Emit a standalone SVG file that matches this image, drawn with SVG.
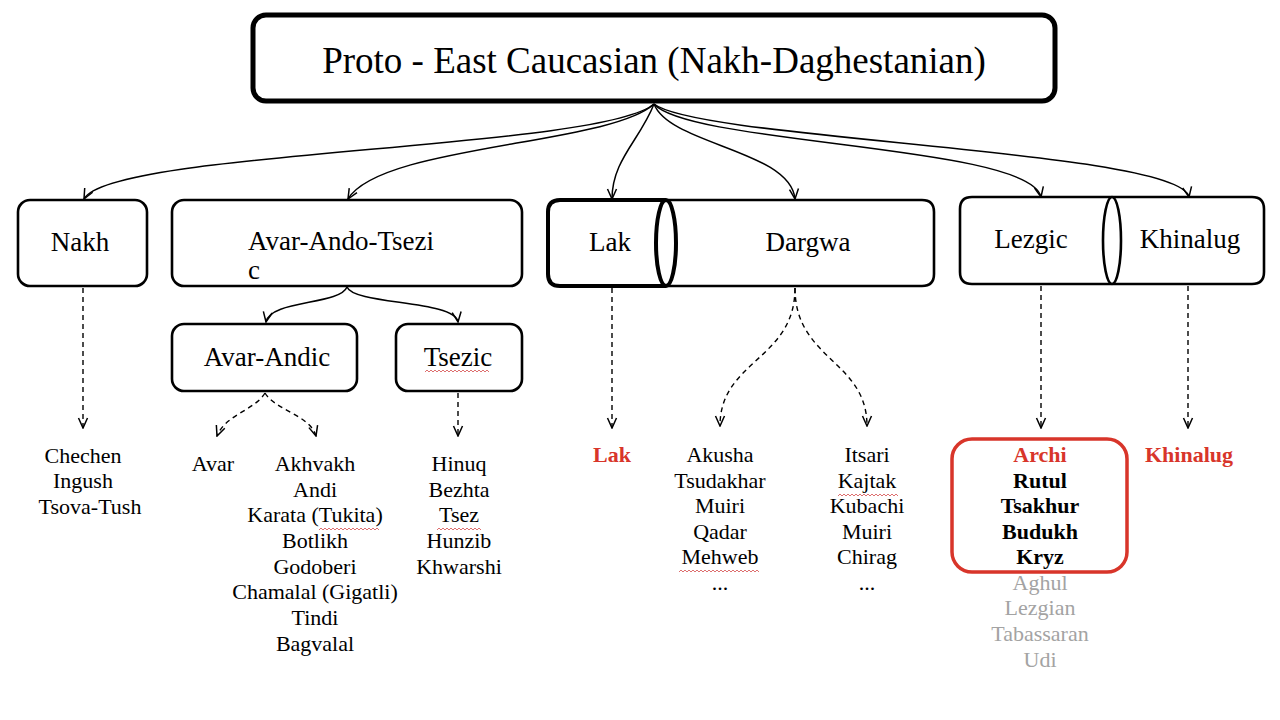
<svg xmlns="http://www.w3.org/2000/svg" width="1280" height="720" viewBox="0 0 1280 720">
<style>
.box{fill:#fff;stroke:#000;stroke-width:2.6}
.thick{fill:#fff;stroke:#000;stroke-width:4}
.lbl{font-family:"Liberation Serif","Times New Roman",serif;font-size:27px;fill:#000;text-anchor:middle}
.lst{font-family:"Liberation Serif","Times New Roman",serif;font-size:22px;fill:#000;text-anchor:middle}
.b{font-weight:bold}
.red{fill:#d8352a}
.gray{fill:#a3a3a3}
.solid{fill:none;stroke:#000;stroke-width:1.5;marker-end:url(#arr)}
.dash{fill:none;stroke:#000;stroke-width:1.4;stroke-dasharray:5 4;marker-end:url(#arr)}
.wave{fill:none;stroke:#d96060;stroke-width:0.9}
</style>
<defs>
<marker id="arr" viewBox="0 0 12 12" refX="11" refY="6" markerWidth="12" markerHeight="12" markerUnits="userSpaceOnUse" orient="auto">
<path d="M1,1.5 L11,6 L1,10.5" fill="none" stroke="#000" stroke-width="1.5"/>
</marker>
</defs>
<rect width="1280" height="720" fill="#fff"/>

<g id="connectors">
<path class="solid" d="M654,104 C600,150 110,150 84,199"/>
<path class="solid" d="M654,104 C610,145 380,145 348,199"/>
<path class="solid" d="M654,104 C640,140 612,160 612,199"/>
<path class="solid" d="M654,104 C670,145 790,150 795,199"/>
<path class="solid" d="M654,104 C690,145 1030,145 1041,197"/>
<path class="solid" d="M654,104 C700,140 1180,150 1189,197"/>
<path class="solid" d="M347,287 C340,305 270,300 266,322"/>
<path class="solid" d="M347,287 C354,305 455,300 458,322"/>
<path class="dash" d="M83,288 L83,428"/>
<path class="dash" d="M265,393 C255,410 225,415 217,436"/>
<path class="dash" d="M265,393 C275,410 310,415 316,436"/>
<path class="dash" d="M458,393 L458,436"/>
<path class="dash" d="M612,288 L612,428"/>
<path class="dash" d="M795,288 C795,360 720,360 720,426"/>
<path class="dash" d="M795,288 C795,360 867,360 867,426"/>
<path class="dash" d="M1041,286 L1041,428"/>
<path class="dash" d="M1188,286 L1188,428"/>
</g>

<g id="root">
<rect x="253" y="15" width="802" height="86" rx="13" fill="#fff" stroke="#000" stroke-width="5"/>
<text x="654" y="73" class="lbl" style="font-size:37px">Proto - East Caucasian (Nakh-Daghestanian)</text>
</g>

<g id="nakh">
<rect class="box" x="18" y="200" width="129" height="86" rx="12"/>
<text x="80" y="251" class="lbl">Nakh</text>
</g>

<g id="avar-ando-tsezic">
<rect class="box" x="172" y="200" width="350" height="86" rx="12"/>
<text x="248" y="250" class="lbl" style="text-anchor:start">Avar-Ando-Tsezi</text>
<text x="248" y="279" class="lbl" style="text-anchor:start">c</text>
</g>

<g id="avar-andic">
<rect class="box" x="172" y="324" width="185" height="67" rx="12"/>
<text x="267" y="366" class="lbl">Avar-Andic</text>
</g>

<g id="tsezic">
<rect class="box" x="396" y="324" width="126" height="67" rx="12"/>
<text x="458" y="366" class="lbl">Tsezic</text>
<path class="wave" d="M425,372 l2,-2 l2,2 l2,-2 l2,2 l2,-2 l2,2 l2,-2 l2,2 l2,-2 l2,2 l2,-2 l2,2 l2,-2 l2,2 l2,-2 l2,2 l2,-2 l2,2 l2,-2 l2,2 l2,-2 l2,2 l2,-2 l2,2 l2,-2 l2,2 l2,-2 l2,2 l2,-2 l2,2 l2,-2 l2,2"/>
</g>

<g id="dargwa">
<path class="box" d="M666,200 L922,200 Q934,200 934,212 L934,274 Q934,286 922,286 L666,286"/>
<text x="808" y="251" class="lbl">Dargwa</text>
</g>

<g id="lak">
<path class="thick" d="M666,200 L560,200 Q548,200 548,212 L548,274 Q548,286 560,286 L666,286"/>
<ellipse class="thick" cx="666" cy="243" rx="10" ry="43"/>
<text x="610" y="251" class="lbl">Lak</text>
</g>

<g id="lezgic">
<path class="box" d="M1112,197 L972,197 Q960,197 960,209 L960,272 Q960,284 972,284 L1112,284"/>
<text x="1031" y="248" class="lbl">Lezgic</text>
</g>

<g id="khinalug">
<path class="box" d="M1112,197 L1252,197 Q1264,197 1264,209 L1264,272 Q1264,284 1252,284 L1112,284"/>
<ellipse class="box" cx="1112" cy="240.5" rx="9" ry="43.5"/>
<text x="1190" y="248" class="lbl">Khinalug</text>
</g>

<g id="nakh-langs">
<text class="lst" x="83" y="463">Chechen</text>
<text class="lst" x="83" y="488">Ingush</text>
<text class="lst" x="90" y="514">Tsova-Tush</text>
</g>

<g id="avar-lang">
<text class="lst" x="213" y="471">Avar</text>
</g>

<g id="andic-langs">
<text class="lst" x="315" y="471">Akhvakh</text>
<text class="lst" x="315" y="497">Andi</text>
<text class="lst" x="315" y="522">Karata (Tukita)</text>
<text class="lst" x="315" y="548">Botlikh</text>
<text class="lst" x="315" y="574">Godoberi</text>
<text class="lst" x="315" y="599">Chamalal (Gigatli)</text>
<text class="lst" x="315" y="625">Tindi</text>
<text class="lst" x="315" y="651">Bagvalal</text>
<path class="wave" d="M319,530 l2,-2 l2,2 l2,-2 l2,2 l2,-2 l2,2 l2,-2 l2,2 l2,-2 l2,2 l2,-2 l2,2 l2,-2 l2,2 l2,-2 l2,2 l2,-2 l2,2 l2,-2 l2,2 l2,-2 l2,2 l2,-2 l2,2 l2,-2 l2,2 l2,-2 l2,2 l2,-2 l2,2"/>
</g>

<g id="tsezic-langs">
<text class="lst" x="459" y="471">Hinuq</text>
<text class="lst" x="459" y="497">Bezhta</text>
<text class="lst" x="459" y="522">Tsez</text>
<text class="lst" x="459" y="548">Hunzib</text>
<text class="lst" x="459" y="574">Khwarshi</text>
<path class="wave" d="M437,530 l2,-2 l2,2 l2,-2 l2,2 l2,-2 l2,2 l2,-2 l2,2 l2,-2 l2,2 l2,-2 l2,2 l2,-2 l2,2 l2,-2 l2,2 l2,-2 l2,2 l2,-2 l2,2 l2,-2 l2,2"/>
</g>

<g id="lak-lang">
<text class="lst b red" x="612" y="462">Lak</text>
</g>

<g id="dargwa-langs-1">
<text class="lst" x="720" y="462">Akusha</text>
<text class="lst" x="720" y="488">Tsudakhar</text>
<text class="lst" x="720" y="513">Muiri</text>
<text class="lst" x="720" y="539">Qadar</text>
<text class="lst" x="720" y="564">Mehweb</text>
<text class="lst" x="720" y="590">...</text>
<path class="wave" d="M679,572 l2,-2 l2,2 l2,-2 l2,2 l2,-2 l2,2 l2,-2 l2,2 l2,-2 l2,2 l2,-2 l2,2 l2,-2 l2,2 l2,-2 l2,2 l2,-2 l2,2 l2,-2 l2,2 l2,-2 l2,2 l2,-2 l2,2 l2,-2 l2,2 l2,-2 l2,2 l2,-2 l2,2 l2,-2 l2,2 l2,-2 l2,2 l2,-2 l2,2 l2,-2 l2,2 l2,-2 l2,2"/>
</g>

<g id="dargwa-langs-2">
<text class="lst" x="867" y="462">Itsari</text>
<text class="lst" x="867" y="488">Kajtak</text>
<text class="lst" x="867" y="513">Kubachi</text>
<text class="lst" x="867" y="539">Muiri</text>
<text class="lst" x="867" y="564">Chirag</text>
<text class="lst" x="867" y="590">...</text>
<path class="wave" d="M838,496 l2,-2 l2,2 l2,-2 l2,2 l2,-2 l2,2 l2,-2 l2,2 l2,-2 l2,2 l2,-2 l2,2 l2,-2 l2,2 l2,-2 l2,2 l2,-2 l2,2 l2,-2 l2,2 l2,-2 l2,2 l2,-2 l2,2 l2,-2 l2,2 l2,-2 l2,2 l2,-2 l2,2"/>
</g>

<g id="lezgic-langs">
<rect x="952" y="439" width="175" height="133" rx="20" fill="none" stroke="#d8352a" stroke-width="3.5"/>
<text class="lst b red" x="1040" y="462">Archi</text>
<text class="lst b" x="1040" y="488">Rutul</text>
<text class="lst b" x="1040" y="513">Tsakhur</text>
<text class="lst b" x="1040" y="539">Budukh</text>
<text class="lst b" x="1040" y="564">Kryz</text>
<text class="lst gray" x="1040" y="590">Aghul</text>
<text class="lst gray" x="1040" y="615">Lezgian</text>
<text class="lst gray" x="1040" y="641">Tabassaran</text>
<text class="lst gray" x="1040" y="667">Udi</text>
</g>

<g id="khinalug-lang">
<text class="lst b red" x="1189" y="462">Khinalug</text>
</g>
</svg>
